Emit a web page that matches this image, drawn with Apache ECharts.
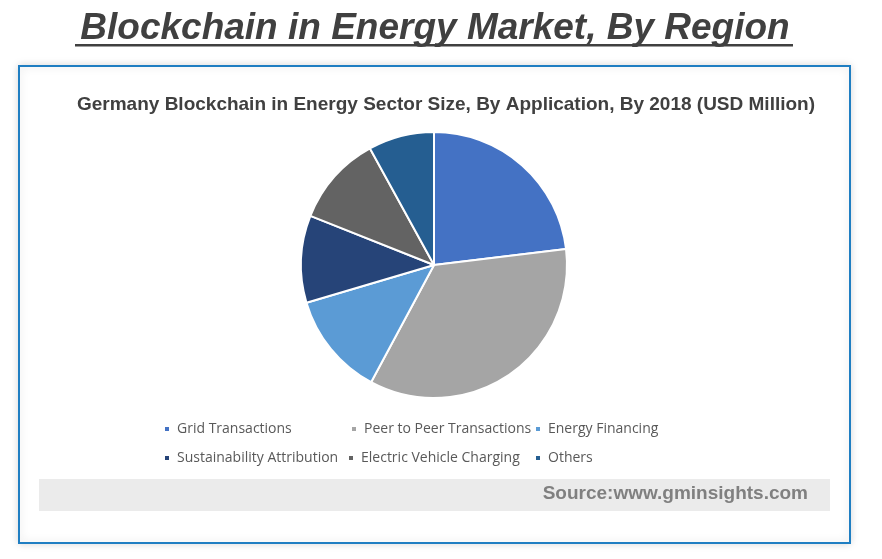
<!DOCTYPE html>
<html>
<head>
<meta charset="utf-8">
<script src="https://cdn.jsdelivr.net/npm/echarts@6/dist/echarts.min.js"></script>
<style>
  html, body { margin: 0; padding: 0; background: #fff; }
  #chart { width: 882px; height: 559px; }
</style>
</head>
<body>
<div id="chart"></div>
<script>
// application segments, share of 2018 size
var categories = ['Grid Transactions', 'Peer to Peer Transactions', 'Energy Financing',
                  'Sustainability Attribution', 'Electric Vehicle Charging', 'Others'];
var values = [23.1, 34.8, 12.6, 10.6, 11.0, 8.0];
var colors = ['#4472C4', '#A5A5A5', '#5B9BD5', '#264478', '#636363', '#255E91'];

// legend placement, like the excel layout (two rows)
var legendLeft = [158, 345, 529, 158, 342, 529];
var legendTop = [417, 417, 417, 446, 446, 446];

var myChart = echarts.init(document.getElementById('chart'));

var legends = categories.map(function (name, i) {
    return {
        data: [name],
        left: legendLeft[i],
        top: legendTop[i],
        icon: 'rect',
        itemWidth: 6,
        itemHeight: 6,
        itemGap: 0,
        textStyle: { fontFamily: 'Open Sans', fontSize: 14, color: '#595959', padding: [0, 0, 0, 2] }
    };
});

var option = {
    color: colors,
    animation: false,
    title: [
        {
            text: 'Blockchain in Energy Market, By Region',
            left: 430,
            textAlign: 'center',
            top: 5,
            textStyle: {
                fontFamily: 'Liberation Sans', fontSize: 37, fontWeight: 'bold',
                fontStyle: 'italic', color: '#404040'
            }
        },
        {
            text: 'Germany Blockchain in Energy Sector Size, By Application, By 2018 (USD Million)',
            left: 441,
            textAlign: 'center',
            top: 90,
            textStyle: {
                fontFamily: 'Liberation Sans', fontSize: 19, fontWeight: 'bold', color: '#404040'
            }
        }
    ],
    legend: legends,
    graphic: [
        {
            type: 'rect', z: -1,
            shape: { x: 19, y: 66, width: 831, height: 477 },
            style: { fill: '#fff', stroke: '#1f7ec2', lineWidth: 2, shadowBlur: 8, shadowColor: 'rgba(0,0,0,0.15)' }
        },
        {
            type: 'rect', z: -1,
            shape: { x: 39, y: 479, width: 791, height: 32 },
            style: { fill: '#ebebeb' }
        },
        {
            type: 'rect',
            shape: { x: 75, y: 44, width: 718, height: 2.5 },
            style: { fill: '#404040' }
        },
        {
            type: 'text',
            right: 74, top: 484,
            style: {
                text: 'Source:www.gminsights.com',
                font: 'bold 19px "Liberation Sans"',
                fill: '#808080'
            }
        }
    ],
    series: [
        {
            type: 'pie',
            center: [434, 265],
            radius: 133,
            startAngle: 90,
            clockwise: true,
            label: { show: false },
            labelLine: { show: false },
            itemStyle: { borderColor: '#fff', borderWidth: 2 },
            emphasis: { scale: false },
            data: categories.map(function (c, i) {
                return { name: c, value: values[i] };
            })
        }
    ]
};

myChart.setOption(option);
</script>
</body>
</html>
